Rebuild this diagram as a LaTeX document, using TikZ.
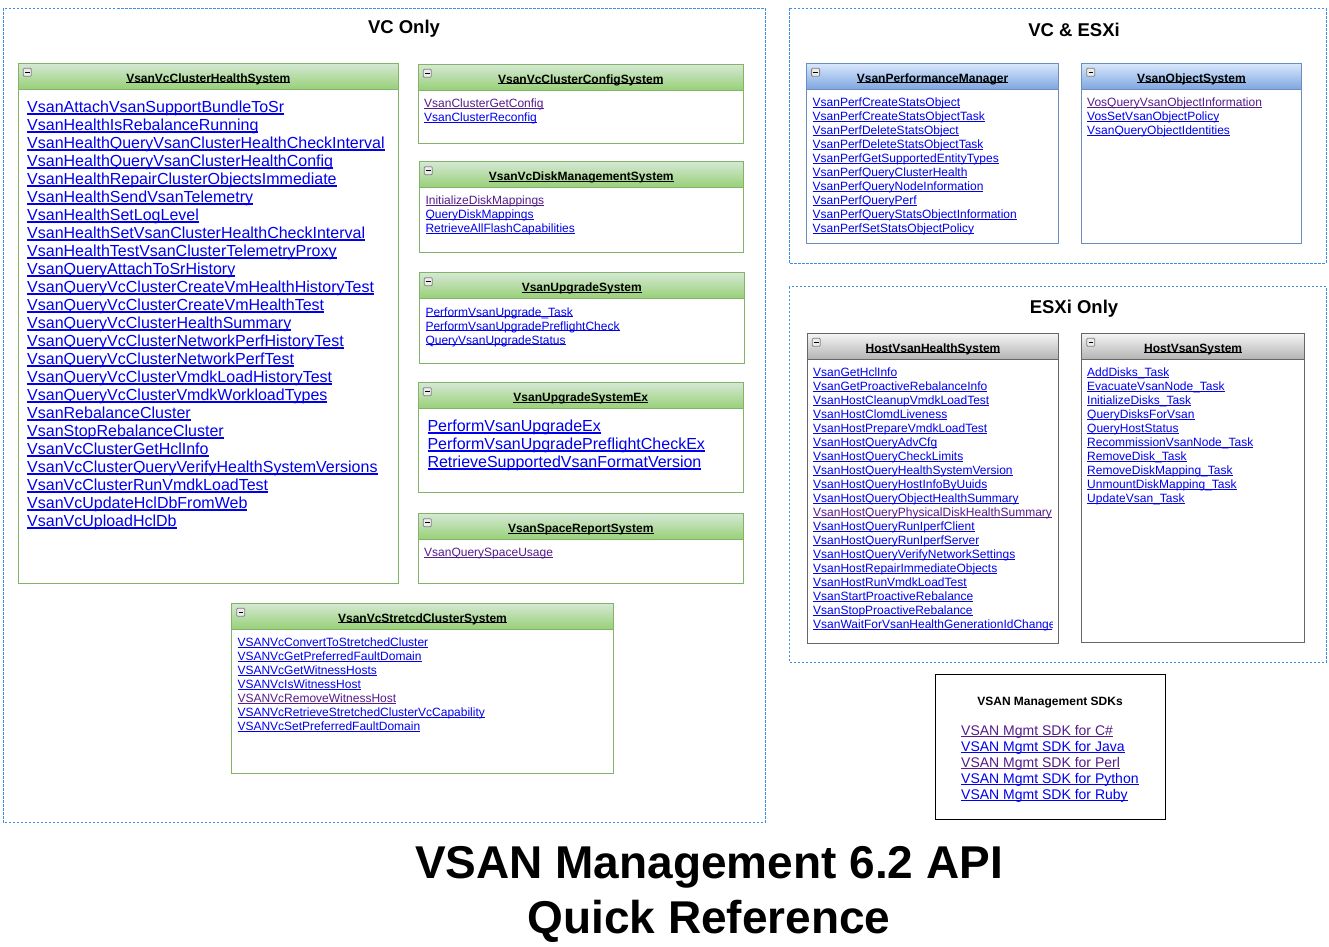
\documentclass[tikz,border=0pt]{standalone}
\usepackage{fontspec}
\setmainfont{Liberation Sans}

\definecolor{greenline}{HTML}{82B366}
\definecolor{greentop}{HTML}{D5E8D4}
\definecolor{greenbot}{HTML}{97D077}
\definecolor{blueline}{HTML}{6C8EBF}
\definecolor{bluetop}{HTML}{DAE8FC}
\definecolor{bluebot}{HTML}{7EA6E0}
\definecolor{grayline}{HTML}{666666}
\definecolor{graytop}{HTML}{F5F5F5}
\definecolor{graybot}{HTML}{B3B3B3}
\definecolor{zonecol}{HTML}{3D8EE6}
\definecolor{lnkblue}{HTML}{0000EE}
\definecolor{vislink}{HTML}{551A8B}

% underline like a browser link
\newcommand\uln[1]{\setbox0\hbox{#1}\rlap{\rule[-0.12em]{\wd0}{0.08em}}\box0}

\tikzset{
  vcline/.style={draw=greenline, line width=1pt},
  vchead/.style={top color=greentop, bottom color=greenbot},
  bothline/.style={draw=blueline, line width=1pt},
  bothhead/.style={top color=bluetop, bottom color=bluebot},
  esxline/.style={draw=grayline, line width=1pt},
  esxhead/.style={top color=graytop, bottom color=graybot},
  zone/.style={draw=zonecol, line width=0.9pt, dash pattern=on 2.5pt off 1.5pt},
  zonetitle/.style={anchor=base, inner sep=0pt, font=\bfseries\fontsize{18.5}{22}\selectfont},
  boxtitle/.style={anchor=base, inner sep=0pt, font=\bfseries\fontsize{12}{14}\selectfont},
  icon/.style={draw=gray, fill=gray!15, line width=0.8pt, rounded corners=1pt},
  apiitem/.style={anchor=base west, inner sep=0pt, text=lnkblue, font=\fontsize{12}{14}\selectfont},
  bigapiitem/.style={apiitem, font=\fontsize{16}{18}\selectfont},
  sdkitem/.style={apiitem, font=\fontsize{14}{16}\selectfont},
  maintitle/.style={anchor=base, inner sep=0pt, font=\bfseries\fontsize{46}{55}\selectfont},
  % links already followed
  visited/.style={text=vislink},
  VsanClusterGetConfig/.style=visited,
  InitializeDiskMappings/.style=visited,
  VsanQuerySpaceUsage/.style=visited,
  VSANVcRemoveWitnessHost/.style=visited,
  VosQueryVsanObjectInformation/.style=visited,
  VsanHostQueryPhysicalDiskHealthSummary/.style=visited,
}

% #1 name, #2 look (vc, both, esx), (#3,#4) top left, (#5,#6) bottom right, #7 title
\newcommand\classbox[7]{%
  \draw[#2line, fill=white] (#3,#4) rectangle (#5,#6);
  \shade[#2head] (#3,#4) rectangle (#5,#4+26);
  \draw[#2line] (#3,#4) rectangle (#5,#4+26);
  \draw[icon] (#3+5,#4+5) rectangle (#3+13,#4+13);
  \draw[line width=1pt] (#3+6.8,#4+9) -- (#3+11.2,#4+9);
  \node[boxtitle] (#1) at ({(#3+#5)/2},#4+18.7) {\uln{#7}};
}

\begin{document}
\catcode`\_=12
\begin{tikzpicture}[x=1pt, y=-1pt]
\useasboundingbox (0,0) rectangle (1329,946);

% the three groups
\draw[zone] (3.3,8.3) rectangle (765,822.7);
\node[zonetitle] (vconly) at (404,33.3) {VC Only};
\draw[zone] (789,8.3) rectangle (1326,263);
\node[zonetitle] (vcesx) at (1074,36.5) {VC \& ESXi};
\draw[zone] (789,286.5) rectangle (1326,662);
\node[zonetitle] (esxonly) at (1074,313.3) {ESXi Only};

% VC only
\classbox{hsys}{vc}{18.3}{63.3}{398.3}{583.3}{VsanVcClusterHealthSystem}
\foreach \t [count=\i from 0] in {VsanAttachVsanSupportBundleToSr,
    VsanHealthIsRebalanceRunning, VsanHealthQueryVsanClusterHealthCheckInterval,
    VsanHealthQueryVsanClusterHealthConfig, VsanHealthRepairClusterObjectsImmediate,
    VsanHealthSendVsanTelemetry, VsanHealthSetLogLevel,
    VsanHealthSetVsanClusterHealthCheckInterval, VsanHealthTestVsanClusterTelemetryProxy,
    VsanQueryAttachToSrHistory, VsanQueryVcClusterCreateVmHealthHistoryTest,
    VsanQueryVcClusterCreateVmHealthTest, VsanQueryVcClusterHealthSummary,
    VsanQueryVcClusterNetworkPerfHistoryTest, VsanQueryVcClusterNetworkPerfTest,
    VsanQueryVcClusterVmdkLoadHistoryTest, VsanQueryVcClusterVmdkWorkloadTypes,
    VsanRebalanceCluster, VsanStopRebalanceCluster, VsanVcClusterGetHclInfo,
    VsanVcClusterQueryVerifyHealthSystemVersions, VsanVcClusterRunVmdkLoadTest,
    VsanVcUpdateHclDbFromWeb, VsanVcUploadHclDb}
  \node[bigapiitem, \t/.try] (hs\i) at (27,112.7+18*\i) {\uln{\t}};

\classbox{csys}{vc}{418.3}{64.3}{743.3}{143}{VsanVcClusterConfigSystem}
\foreach \t [count=\i from 0] in {VsanClusterGetConfig, VsanClusterReconfig}
  \node[apiitem, \t/.try] (cs\i) at (424,107.7+14*\i) {\uln{\t}};

\classbox{dsys}{vc}{419.3}{161.7}{743.3}{252.3}{VsanVcDiskManagementSystem}
\foreach \t [count=\i from 0] in {InitializeDiskMappings, QueryDiskMappings,
    RetrieveAllFlashCapabilities}
  \node[apiitem, \t/.try] (ds\i) at (425.3,204.3+14*\i) {\uln{\t}};

\classbox{usys}{vc}{419.3}{272.7}{744.3}{363.3}{VsanUpgradeSystem}
\foreach \t [count=\i from 0] in {PerformVsanUpgrade_Task,
    PerformVsanUpgradePreflightCheck, QueryVsanUpgradeStatus}
  \node[apiitem, \t/.try] (us\i) at (425.3,316+14*\i) {\uln{\t}};

\classbox{uxsys}{vc}{418.3}{382.7}{743.3}{492.3}{VsanUpgradeSystemEx}
\foreach \t [count=\i from 0] in {PerformVsanUpgradeEx,
    PerformVsanUpgradePreflightCheckEx, RetrieveSupportedVsanFormatVersion}
  \node[bigapiitem, \t/.try] (ux\i) at (427.3,431.7+18*\i) {\uln{\t}};

\classbox{ssys}{vc}{418.3}{513.7}{743.3}{583.3}{VsanSpaceReportSystem}
\node[apiitem, VsanQuerySpaceUsage] (ss0) at (424,556.7) {\uln{VsanQuerySpaceUsage}};

\classbox{scsys}{vc}{231.7}{603.3}{613.3}{773.3}{VsanVcStretcdClusterSystem}
\foreach \t [count=\i from 0] in {VSANVcConvertToStretchedCluster,
    VSANVcGetPreferredFaultDomain, VSANVcGetWitnessHosts, VSANVcIsWitnessHost,
    VSANVcRemoveWitnessHost, VSANVcRetrieveStretchedClusterVcCapability,
    VSANVcSetPreferredFaultDomain}
  \node[apiitem, \t/.try] (sc\i) at (237.3,646.7+14*\i) {\uln{\t}};

% VC and ESXi
\classbox{pmgr}{both}{806.6}{63.3}{1058.5}{243}{VsanPerformanceManager}
\foreach \t [count=\i from 0] in {VsanPerfCreateStatsObject,
    VsanPerfCreateStatsObjectTask, VsanPerfDeleteStatsObject,
    VsanPerfDeleteStatsObjectTask, VsanPerfGetSupportedEntityTypes,
    VsanPerfQueryClusterHealth, VsanPerfQueryNodeInformation, VsanPerfQueryPerf,
    VsanPerfQueryStatsObjectInformation, VsanPerfSetStatsObjectPolicy}
  \node[apiitem, \t/.try] (pm\i) at (812.5,106.7+14*\i) {\uln{\t}};

\classbox{osys}{both}{1081.7}{63.3}{1301}{243}{VsanObjectSystem}
\foreach \t [count=\i from 0] in {VosQueryVsanObjectInformation,
    VosSetVsanObjectPolicy, VsanQueryObjectIdentities}
  \node[apiitem, \t/.try] (os\i) at (1087,106.7+14*\i) {\uln{\t}};

% ESXi only
\classbox{hhsys}{esx}{807.3}{333.3}{1058.8}{643.3}{HostVsanHealthSystem}
\begin{scope}
  \clip (807.3,360) rectangle (1052,643.3);
  \foreach \t [count=\i from 0] in {VsanGetHclInfo, VsanGetProactiveRebalanceInfo,
      VsanHostCleanupVmdkLoadTest, VsanHostClomdLiveness, VsanHostPrepareVmdkLoadTest,
      VsanHostQueryAdvCfg, VsanHostQueryCheckLimits, VsanHostQueryHealthSystemVersion,
      VsanHostQueryHostInfoByUuids, VsanHostQueryObjectHealthSummary,
      VsanHostQueryPhysicalDiskHealthSummary, VsanHostQueryRunIperfClient,
      VsanHostQueryRunIperfServer, VsanHostQueryVerifyNetworkSettings,
      VsanHostRepairImmediateObjects, VsanHostRunVmdkLoadTest,
      VsanStartProactiveRebalance, VsanStopProactiveRebalance,
      VsanWaitForVsanHealthGenerationIdChange}
    \node[apiitem, \t/.try] (hh\i) at (813,376.7+14*\i) {\uln{\t}};
\end{scope}

\classbox{hvsys}{esx}{1081.8}{333.3}{1304.4}{642.3}{HostVsanSystem}
\foreach \t [count=\i from 0] in {AddDisks_Task, EvacuateVsanNode_Task,
    InitializeDisks_Task, QueryDisksForVsan, QueryHostStatus,
    RecommissionVsanNode_Task, RemoveDisk_Task, RemoveDiskMapping_Task,
    UnmountDiskMapping_Task, UpdateVsan_Task}
  \node[apiitem, \t/.try] (hv\i) at (1087,376.7+14*\i) {\uln{\t}};

% SDK links
\draw[line width=1pt] (935,674) rectangle (1165.7,819.3);
\node[boxtitle] (sdks) at (1050,705) {VSAN Management SDKs};
\foreach \s/\c [count=\i from 0] in {C\#/vislink, Java/lnkblue, Perl/vislink,
    Python/lnkblue, Ruby/lnkblue}
  \node[sdkitem, text=\c] (sdk\i) at (961,735+16*\i) {\uln{VSAN Mgmt SDK for \s}};

\node[maintitle] (title1) at (709,878.3) {VSAN Management 6.2 API};
\node[maintitle] (title2) at (709,933.3) {Quick Reference};
\end{tikzpicture}
\end{document}
